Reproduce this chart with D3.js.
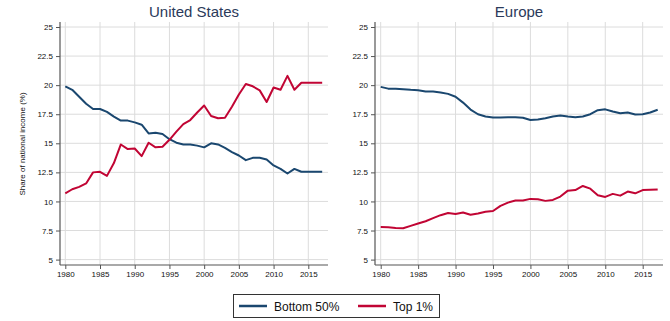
<!DOCTYPE html>
<html>
<head>
<meta charset="utf-8">
<script src="https://cdn.jsdelivr.net/npm/d3@7"></script>
<style>
  body { margin: 0; background: #fff; }
  svg { font-family: "Liberation Sans", Arial, sans-serif; }
</style>
</head>
<body>
<svg width="670" height="321"></svg>
<script>
const years = d3.range(1980, 2018);
const yTicks = [5, 7.5, 10, 12.5, 15, 17.5, 20, 22.5, 25];
const xTicks = [1980, 1985, 1990, 1995, 2000, 2005, 2010, 2015];

// United States
const usBottom50 = [19.9, 19.6, 19.0, 18.4, 17.95, 17.95, 17.7, 17.3, 16.95, 16.95,
  16.8, 16.6, 15.85, 15.9, 15.8, 15.35, 15.05, 14.9, 14.9, 14.8,
  14.65, 15.0, 14.9, 14.6, 14.25, 13.95, 13.55, 13.75, 13.75, 13.6,
  13.1, 12.8, 12.4, 12.8, 12.55, 12.55, 12.55, 12.55];
const usTop1 = [10.7, 11.05, 11.25, 11.55, 12.5, 12.55, 12.2, 13.3, 14.9, 14.5,
  14.55, 13.9, 15.05, 14.65, 14.7, 15.3, 16.0, 16.65, 17.0, 17.65,
  18.25, 17.35, 17.15, 17.2, 18.15, 19.2, 20.1, 19.9, 19.55, 18.55,
  19.8, 19.6, 20.8, 19.6, 20.2, 20.2, 20.2, 20.2];

// Europe
const euBottom50 = [19.85, 19.7, 19.7, 19.65, 19.6, 19.57, 19.45, 19.45, 19.37, 19.25,
  19.0, 18.5, 17.9, 17.5, 17.3, 17.22, 17.22, 17.25, 17.25, 17.2,
  17.0, 17.05, 17.15, 17.3, 17.4, 17.3, 17.25, 17.3, 17.5, 17.85,
  17.92, 17.73, 17.58, 17.65, 17.48, 17.5, 17.65, 17.88];
const euTop1 = [7.8, 7.78, 7.72, 7.69, 7.9, 8.1, 8.3, 8.56, 8.82, 9.0,
  8.93, 9.05, 8.85, 8.96, 9.12, 9.18, 9.62, 9.9, 10.08, 10.08,
  10.22, 10.19, 10.05, 10.13, 10.42, 10.93, 10.98, 11.33, 11.1, 10.53,
  10.39, 10.65, 10.5, 10.85, 10.7, 10.98, 11.0, 11.03];

const seriesNames = ["Bottom 50%", "Top 1%"];
const colors = ["#1a476f", "#c10534"];

const svg = d3.select("svg");

const y = d3.scaleLinear().domain([5, 25]).range([259.6, 27]);

function drawPanel(title, left, right, first, bottom, top) {
  const x = d3.scaleLinear().domain([1980, 2015]).range(first ? [65.3, 308.3] : [380.7, 642.7]);
  const g = svg.append("g");

  // gridlines
  g.selectAll(".hg").data(yTicks).enter().append("line")
    .attr("x1", left).attr("x2", right)
    .attr("y1", d => y(d)).attr("y2", d => y(d))
    .attr("stroke", "#dcdcdc").attr("stroke-width", 1);
  g.selectAll(".vg").data(xTicks).enter().append("line")
    .attr("x1", d => x(d)).attr("x2", d => x(d))
    .attr("y1", 22).attr("y2", 265)
    .attr("stroke", "#dcdcdc").attr("stroke-width", 1);

  // axes
  const yAxis = d3.axisLeft(y).tickValues(yTicks).tickSize(4).tickPadding(3)
    .tickFormat(d => String(d));
  const ya = g.append("g").attr("transform", `translate(${left},0)`).call(yAxis);
  ya.select(".domain").remove();
  g.append("line").attr("x1", left).attr("x2", left).attr("y1", 22).attr("y2", 265)
    .attr("stroke", "#555").attr("stroke-width", 1.2);

  const xAxis = d3.axisBottom(x).tickValues(xTicks).tickSize(4).tickPadding(2)
    .tickFormat(d3.format("d"));
  const xa = g.append("g").attr("transform", "translate(0,265)").call(xAxis);
  xa.select(".domain").remove();
  g.append("line").attr("x1", left).attr("x2", right).attr("y1", 265).attr("y2", 265)
    .attr("stroke", "#555").attr("stroke-width", 1.2);

  [ya, xa].forEach(a => {
    a.selectAll("text").attr("font-size", 8).attr("fill", "#111")
      .attr("font-family", "Liberation Sans, Arial, sans-serif");
    a.selectAll(".tick line").attr("stroke", "#555");
  });

  // lines
  const line = d3.line().x((d, i) => x(years[i])).y(d => y(d));
  [bottom, top].forEach((s, k) => {
    g.append("path").datum(s).attr("d", line)
      .attr("fill", "none").attr("stroke", colors[k]).attr("stroke-width", 2)
      .attr("stroke-linejoin", "round");
  });

  g.append("text").attr("x", (left + right) / 2).attr("y", 17)
    .attr("text-anchor", "middle").attr("font-size", 15).attr("fill", "#2b3a5a")
    .text(title);
}

drawPanel("United States", 60, 328, true, usBottom50, usTop1);
drawPanel("Europe", 375, 663, false, euBottom50, euTop1);

svg.append("text")
  .attr("transform", "translate(25,144) rotate(-90)")
  .attr("text-anchor", "middle").attr("font-size", 8).attr("fill", "#111")
  .text("Share of national income (%)");

// legend
const lg = svg.append("g");
lg.append("rect").attr("x", 233.5).attr("y", 294.5).attr("width", 206).attr("height", 23)
  .attr("fill", "#fff").attr("stroke", "#333").attr("stroke-width", 1);
const legX = [239, 358];
seriesNames.forEach((n, k) => {
  lg.append("line").attr("x1", legX[k]).attr("x2", legX[k] + 28)
    .attr("y1", 306).attr("y2", 306)
    .attr("stroke", colors[k]).attr("stroke-width", 2.5);
  lg.append("text").attr("x", legX[k] + 35).attr("y", 310.5)
    .attr("font-size", 12).attr("fill", "#111").text(n);
});
</script>
</body>
</html>
